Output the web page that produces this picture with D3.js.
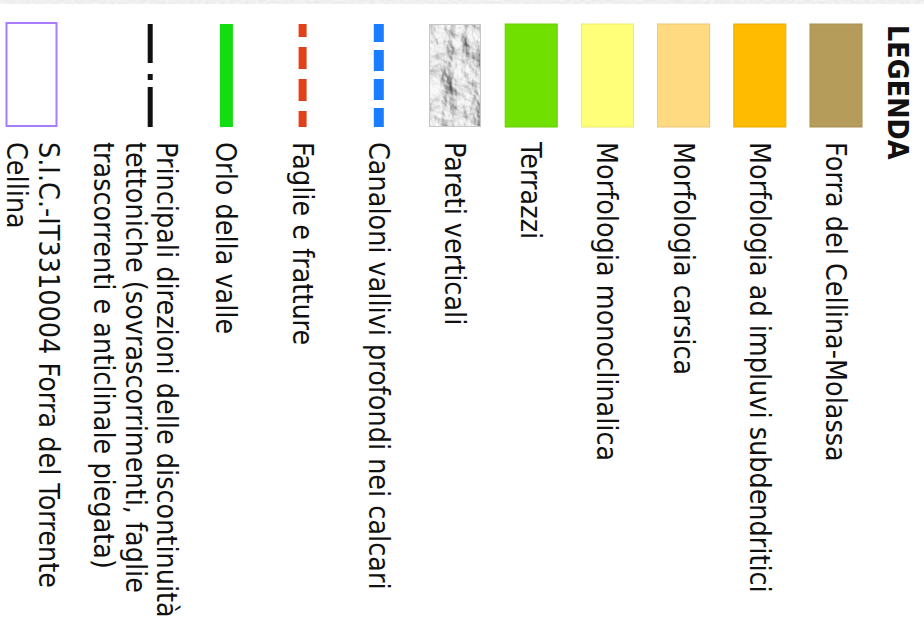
<!DOCTYPE html>
<html>
<head>
<meta charset="utf-8">
<script src="https://cdn.jsdelivr.net/npm/d3@7"></script>
<style>
  html, body { margin: 0; padding: 0; background: #fff; }
  svg { display: block; }
</style>
</head>
<body>
<div id="chart"></div>
<script>
// legend content
const title = 'LEGENDA'

const categories = [
  ['Forra del Cellina-Molassa'],
  ['Morfologia ad impluvi subdendritici'],
  ['Morfologia carsica'],
  ['Morfologia monoclinalica'],
  ['Terrazzi'],
  ['Pareti verticali'],
  ['Canaloni vallivi profondi nei calcari'],
  ['Faglie e fratture'],
  ['Orlo della valle'],
  ['Principali direzioni delle discontinuità',
   'tettoniche (sovrascorrimenti, faglie',
   'trascorrenti e anticlinale piegata)'],
  ['S.I.C.-IT3310004 Forra del Torrente',
   'Cellina']
]

const symbolTypes = ['fill', 'fill', 'fill', 'fill', 'fill', 'texture',
  'line', 'line', 'line', 'line', 'outline']

// styles per symbol (kept apart from the data)
const styles = {
  0: { fill: '#b59c5b' },
  1: { fill: '#ffbb00' },
  2: { fill: '#ffda80' },
  3: { fill: '#ffff7a' },
  4: { fill: '#70e000' },
  5: {},
  6: { stroke: '#1a7cff', width: 10, dash: '21,8', offset: 3 },
  7: { stroke: '#e0401a', width: 8, dash: '22,10', offset: 9 },
  8: { stroke: '#11dd11', width: 13, dash: null, offset: 0 },
  9: { stroke: '#111111', width: 5, dash: '39,11,6,7,40', offset: 0 },
  10: { stroke: '#a77cff', width: 2 }
}

// dimensions (the legend is laid out upright, then turned 90deg)
const dims = { width: 924, height: 623 }
const layout = {
  top: 62, row: 76.2, lineH: 31.5, swatchW: 103, swatchH: 52,
  swatchX: 24, textX: 142, font: 27.5, squeeze: 0.93
}

const svg = d3.select('#chart')
  .append('svg')
  .attr('width', dims.width)
  .attr('height', dims.height)

const defs = svg.append('defs')

// relief texture for "Pareti verticali"
const relief = defs.append('filter')
  .attr('id', 'relief')
  .attr('x', 0).attr('y', 0).attr('width', 1).attr('height', 1)
relief.append('feTurbulence')
  .attr('type', 'fractalNoise')
  .attr('baseFrequency', '0.03 0.045')
  .attr('numOctaves', 5)
  .attr('seed', 11)
  .attr('result', 'noise')
relief.append('feDiffuseLighting')
  .attr('in', 'noise')
  .attr('lighting-color', '#ffffff')
  .attr('surfaceScale', 9)
  .attr('result', 'light')
  .append('feDistantLight')
  .attr('azimuth', 225)
  .attr('elevation', 50)
relief.append('feColorMatrix')
  .attr('in', 'light')
  .attr('type', 'matrix')
  .attr('values', '0.85 0 0 0 0.1  0.85 0 0 0 0.1  0.85 0 0 0 0.1  0 0 0 0 1')

const strip = defs.append('filter')
  .attr('id', 'strip')
  .attr('x', 0).attr('y', 0).attr('width', 1).attr('height', 1)
strip.append('feTurbulence')
  .attr('type', 'fractalNoise')
  .attr('baseFrequency', '0.2 0.5')
  .attr('numOctaves', 2)
  .attr('seed', 3)
strip.append('feColorMatrix')
  .attr('type', 'matrix')
  .attr('values', '0.3 0 0 0 0.62  0.3 0 0 0 0.62  0.3 0 0 0 0.62  0 0 0 0 1')

// map edge along the top
svg.append('rect')
  .attr('x', 0).attr('y', 0)
  .attr('width', dims.width).attr('height', 4)
  .attr('filter', 'url(#strip)')
  .attr('opacity', 0.55)

// turned container: local x -> screen y, local y -> screen (width - x)
const ctr = svg.append('g')
  .attr('transform', `translate(${dims.width},0) rotate(90)`)

// row offsets from line counts
const rowHeights = categories.map(lines =>
  layout.row + Math.max(0, lines.length * layout.lineH - layout.swatchH))
const offsets = d3.cumsum([0, ...rowHeights]).slice(0, categories.length)

const yScale = d3.scaleLinear()
  .domain([0, 1])
  .range([layout.top, layout.top + 1])

// title
ctr.append('text')
  .attr('transform', `translate(25,36) scale(${layout.squeeze},1)`)
  .attr('font-family', 'DejaVu Sans, Verdana, sans-serif')
  .attr('font-weight', 'bold')
  .attr('font-size', layout.font)
  .attr('fill', '#111')
  .text(title)

const rows = ctr.selectAll('g.row')
  .data(categories)
  .join('g')
  .attr('class', 'row')
  .attr('transform', (d, i) => `translate(0,${yScale(offsets[i])})`)

rows.each(function (lines, i) {
  const g = d3.select(this)
  const type = symbolTypes[i]
  const st = styles[i]

  if (type === 'fill') {
    g.append('rect')
      .attr('x', layout.swatchX).attr('y', 0)
      .attr('width', layout.swatchW).attr('height', layout.swatchH)
      .attr('fill', st.fill)
      .attr('stroke', d3.color(st.fill).darker(0.25))
      .attr('stroke-width', 1)
  } else if (type === 'texture') {
    g.append('rect')
      .attr('x', layout.swatchX).attr('y', 0)
      .attr('width', layout.swatchW).attr('height', layout.swatchH)
      .attr('filter', 'url(#relief)')
    g.append('rect')
      .attr('x', layout.swatchX + 0.5).attr('y', 0.5)
      .attr('width', layout.swatchW - 1).attr('height', layout.swatchH - 1)
      .attr('fill', 'none')
      .attr('stroke', '#c8c8c8')
  } else if (type === 'line') {
    g.append('line')
      .attr('x1', layout.swatchX).attr('x2', layout.swatchX + layout.swatchW)
      .attr('y1', layout.swatchH / 2).attr('y2', layout.swatchH / 2)
      .attr('stroke', st.stroke)
      .attr('stroke-width', st.width)
      .attr('stroke-dasharray', st.dash)
      .attr('stroke-dashoffset', st.offset)
  } else if (type === 'outline') {
    g.append('rect')
      .attr('x', layout.swatchX - 1).attr('y', 1)
      .attr('width', layout.swatchW).attr('height', layout.swatchH - 2)
      .attr('fill', '#fff')
      .attr('stroke', st.stroke)
      .attr('stroke-width', st.width)
  }

  // label text; single lines sit centred on the symbol
  const first = lines.length === 1 ? 36 : 19
  lines.forEach((line, k) => {
    g.append('text')
      .attr('transform', `translate(${layout.textX},${first + k * layout.lineH}) scale(${layout.squeeze},1)`)
      .attr('font-family', 'DejaVu Sans, Verdana, sans-serif')
      .attr('font-size', layout.font)
      .attr('fill', '#111')
      .text(line)
  })
})
</script>
</body>
</html>
